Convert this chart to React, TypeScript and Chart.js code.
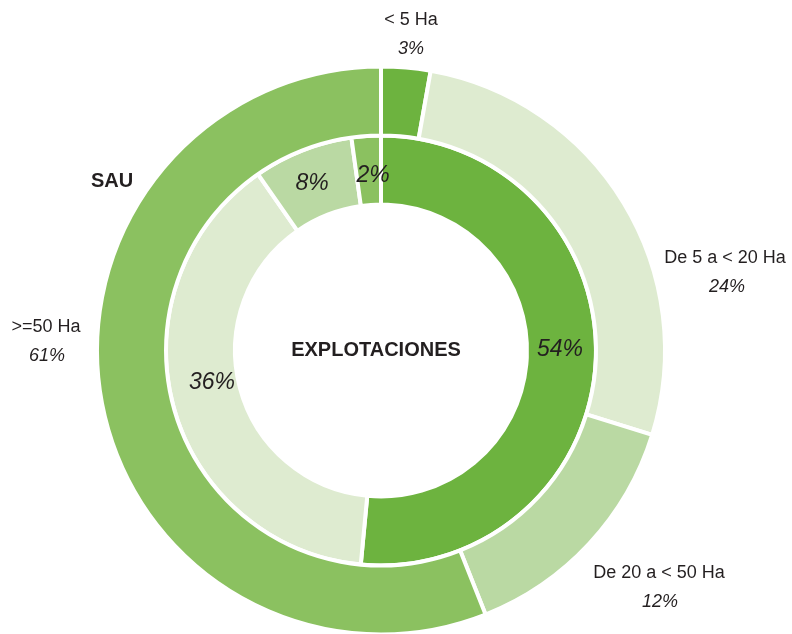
import React, { useEffect, useRef } from "react";
import { Chart, registerables } from "chart.js";

Chart.register(...registerables);

// Categories (size classes)
const categories = ["< 5 Ha", "De 5 a < 20 Ha", "De 20 a < 50 Ha", ">=50 Ha"];
// Outer ring (SAU) arc shares as drawn in the picture
const sauValues = [2.8, 27.0, 14.2, 56.0];
// Inner ring (EXPLOTACIONES) arc shares as drawn in the picture
const explotValues = [51.5, 38.8, 7.5, 2.2];
// Printed percentage labels
const sauLabels = ["3%", "24%", "12%", "61%"];
const explotLabels = ["54%", "36%", "8%", "2%"];
const colors = ["#6db33f", "#deebd0", "#bad9a3", "#8bc160"];

const TEXT = "#231f20";
const FONT = "'Liberation Sans', Arial, Helvetica, sans-serif";

const labelPlugin = {
  id: "labels",
  afterDraw(chart: any) {
    const ctx = chart.ctx as CanvasRenderingContext2D;
    ctx.save();
    ctx.fillStyle = TEXT;
    ctx.textAlign = "center";
    ctx.textBaseline = "middle";

    // Outer category labels
    const outerPos = [
      [411, 20, 411, 49],
      [725, 258, 727, 287],
      [659, 573, 660, 602],
      [46, 327, 47, 356],
    ];
    categories.forEach((c, i) => {
      const p = outerPos[i];
      ctx.font = `18px ${FONT}`;
      ctx.fillText(c, p[0], p[1]);
      ctx.font = `italic 18px ${FONT}`;
      ctx.fillText(sauLabels[i], p[2], p[3]);
    });

    // Inner percentage labels
    const innerPos = [
      [560, 350],
      [212, 383],
      [312, 184],
      [373, 176],
    ];
    ctx.font = `italic 23px ${FONT}`;
    explotLabels.forEach((t, i) => {
      ctx.fillText(t, innerPos[i][0], innerPos[i][1]);
    });

    // Ring titles
    ctx.font = `bold 20px ${FONT}`;
    ctx.fillText("SAU", 112, 181);
    ctx.fillText("EXPLOTACIONES", 376, 350);
    ctx.restore();
  },
};

export default function App() {
  const ref = useRef<HTMLCanvasElement>(null);
  useEffect(() => {
    if (!ref.current) return;
    const chart = new Chart(ref.current, {
      type: "doughnut",
      data: {
        labels: categories,
        datasets: [
          {
            label: "SAU",
            data: sauValues,
            backgroundColor: colors,
            borderColor: "#ffffff",
            borderWidth: 4,
          },
          {
            label: "EXPLOTACIONES",
            data: explotValues,
            backgroundColor: colors,
            borderColor: "#ffffff",
            borderWidth: 4,
          },
        ],
      },
      options: {
        animation: false,
        responsive: false,
        radius: 284,
        cutout: "51.4%",
        layout: { padding: { left: 0, right: 30, top: 67, bottom: 0 } },
        plugins: {
          legend: { display: false },
          tooltip: { enabled: false },
        },
      } as any,
      plugins: [labelPlugin],
    });
    return () => chart.destroy();
  }, []);
  return (
    <div style={{ position: "fixed", left: 0, top: 0, width: 792, height: 634, background: "#fff" }}>
      <canvas ref={ref} width={792} height={634} />
    </div>
  );
}
